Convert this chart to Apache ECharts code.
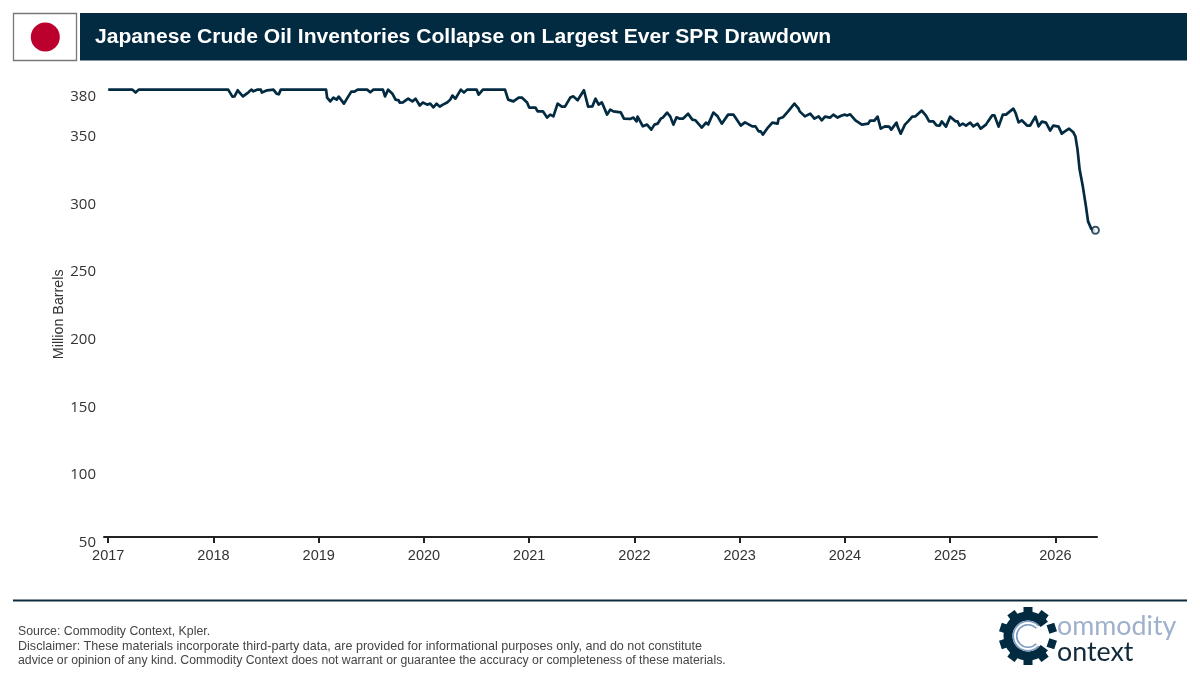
<!DOCTYPE html>
<html>
<head>
<meta charset="utf-8">
<style>html,body{margin:0;padding:0;background:#fff}#c{width:1200px;height:685px}</style>
<script src="https://cdn.jsdelivr.net/npm/echarts@6/dist/echarts.min.js"></script>
</head>
<body>
<div id="c"></div>
<script>
const titleText = "Japanese Crude Oil Inventories Collapse on Largest Ever SPR Drawdown";
const yTicks = [50,100,150,200,250,300,350,380];
const xTicks = [2017,2018,2019,2020,2021,2022,2023,2024,2025,2026];
const dates = [2017.00,2017.23,2017.26,2017.29,2018.14,2018.18,2018.20,2018.23,2018.28,2018.33,2018.36,2018.38,2018.42,2018.45,2018.46,2018.51,2018.57,2018.60,2018.62,2018.64,2018.99,2019.00,2019.03,2019.07,2019.08,2019.11,2019.14,2019.17,2019.19,2019.24,2019.28,2019.31,2019.34,2019.37,2019.46,2019.49,2019.52,2019.61,2019.63,2019.66,2019.70,2019.73,2019.76,2019.77,2019.80,2019.85,2019.89,2019.92,2019.96,2019.99,2020.03,2020.06,2020.09,2020.12,2020.15,2020.18,2020.22,2020.25,2020.27,2020.30,2020.35,2020.38,2020.41,2020.50,2020.52,2020.56,2020.77,2020.80,2020.85,2020.90,2020.93,2020.98,2021.00,2021.06,2021.08,2021.13,2021.17,2021.20,2021.23,2021.27,2021.31,2021.34,2021.39,2021.42,2021.46,2021.52,2021.56,2021.60,2021.63,2021.66,2021.69,2021.74,2021.77,2021.80,2021.87,2021.90,2021.96,2021.99,2022.02,2022.03,2022.08,2022.12,2022.16,2022.19,2022.22,2022.25,2022.27,2022.31,2022.34,2022.37,2022.40,2022.43,2022.46,2022.51,2022.55,2022.58,2022.64,2022.68,2022.70,2022.75,2022.79,2022.83,2022.89,2022.94,2023.01,2023.05,2023.12,2023.15,2023.18,2023.20,2023.22,2023.26,2023.31,2023.36,2023.37,2023.41,2023.46,2023.52,2023.56,2023.57,2023.62,2023.67,2023.71,2023.75,2023.78,2023.81,2023.86,2023.89,2023.93,2023.97,2024.00,2024.02,2024.05,2024.10,2024.16,2024.22,2024.24,2024.28,2024.31,2024.34,2024.38,2024.42,2024.44,2024.49,2024.50,2024.53,2024.57,2024.60,2024.64,2024.67,2024.73,2024.77,2024.80,2024.84,2024.87,2024.90,2024.92,2024.96,2025.00,2025.05,2025.07,2025.09,2025.12,2025.15,2025.19,2025.22,2025.26,2025.29,2025.34,2025.36,2025.40,2025.42,2025.46,2025.50,2025.53,2025.60,2025.62,2025.65,2025.68,2025.73,2025.76,2025.81,2025.84,2025.87,2025.91,2025.95,2025.98,2026.03,2026.06,2026.09,2026.13,2026.17,2026.19,2026.21,2026.23,2026.26,2026.29,2026.31,2026.34,2026.36,2026.38];
const inventories = [384,384,381.8,384,384,378.8,379,383.5,379,381.8,384,382.7,384,384,381.8,383.5,384,381,380.5,384,384,382.7,384,384,378,375.3,378,376.6,378.8,373.6,378.8,382.5,382.5,384,384,382,384,384,379,384,381,376.6,376,374.4,374.6,377.3,375.3,377.3,372.2,374.4,372.9,373.6,370.9,373.6,371.4,372.9,374.4,376.6,379.6,377.3,384,381.8,384,384,380.3,384,384,376.6,375.3,378.1,378.1,374.4,370.7,370.7,367.9,367.9,363.3,365.5,364.2,373.6,371.4,371.4,378.1,379,376.1,383.5,371.4,371.6,377.3,372.9,374.6,365.5,369.2,367.9,367.2,362.5,362.3,363.3,360.5,364,356.8,358.1,354.4,358.1,358.8,362.5,363.3,367,364.2,358.1,363.5,362.5,362.5,366.2,361.8,361.3,355.9,359.6,358.1,367,364.2,358.8,365.5,365.5,357.4,359.8,356.8,356.8,353.1,353.1,350.7,355.1,359.6,358.8,362.5,363.5,367.9,373.6,369.9,367.9,364.2,366.2,362.5,364.2,361.3,364,363.3,365.5,363.3,364.8,365.5,364.8,365.7,361.3,358.1,358.8,361.1,361.1,364,355.1,356.8,356.6,354.4,359.6,356.8,351.4,358.1,360.5,364,364.2,368.5,364.8,360.5,360.5,357.6,357.4,360.5,356.6,364,360.5,360.5,357.4,358.8,357.4,359.6,356.8,358.8,355.1,358.1,360.5,365,365,356.6,365.5,365.5,369.9,367,359.8,361.3,357.4,357.4,364,356.8,360.3,359.6,353.7,357.4,356.6,351.4,353.1,355.1,352.4,349.4,339.6,324.8,312.4,297.6,286.5,281.1,279.9,279.9];
const sourceLines = [
  "Source: Commodity Context, Kpler.",
  "Disclaimer: These materials incorporate third-party data, are provided for informational purposes only, and do not constitute",
  "advice or opinion of any kind. Commodity Context does not warrant or guarantee the accuracy or completeness of these materials."
];

const DARK = "#022a40";
const ARIAL = "Liberation Sans";
const series0 = dates.map((d,i)=>[d,inventories[i]]);
const lastPoint = [series0[series0.length-1]];

// gear logo
const gx=1028, gy=636;
const logo=[];
for(let i=0;i<10;i++){
  const a=(i+0.5)*Math.PI/5;
  if(Math.abs(Math.sin(a))<0.2 && Math.cos(a)>0) continue;
  logo.push({type:'rect',x:gx,y:gy,originX:0,originY:0,rotation:a,
    shape:{x:21,y:-4.5,width:8,height:9},style:{fill:DARK},z:10});
}
logo.push({type:'arc',shape:{cx:gx,cy:gy,r:20,startAngle:0.62,endAngle:-0.62,clockwise:true},
  style:{stroke:DARK,lineWidth:9,fill:null},z:11});
logo.push({type:'arc',shape:{cx:gx,cy:gy,r:13,startAngle:0.75,endAngle:-0.75,clockwise:true},
  style:{stroke:"#7f9cc0",lineWidth:5,fill:null},z:12});
logo.push({type:'arc',shape:{cx:gx,cy:gy,r:13,startAngle:0.75,endAngle:-0.75,clockwise:true},
  style:{stroke:"#ffffff",lineWidth:1.8,fill:null},z:13});

const graphic=[
  {type:'rect',shape:{x:13.5,y:13.5,width:63,height:47},style:{fill:'#fff',stroke:'#777',lineWidth:1.3}},
  {type:'circle',shape:{cx:45.3,cy:37,r:14.5},style:{fill:'#bc002d'}},
  {type:'rect',shape:{x:80,y:13,width:1107,height:47.5},style:{fill:DARK}},
  {type:'text',x:95,y:37,style:{text:titleText,fill:'#fff',font:'bold 21.1px "Liberation Sans"',textVerticalAlign:'middle'}},
  {type:'rect',shape:{x:13,y:599.5,width:1174,height:2},style:{fill:"#0f2c3d"}},
  {type:'text',x:18,y:631.5,style:{text:sourceLines[0],fill:'#444',font:'12.3px "Liberation Sans"',textVerticalAlign:'middle'}},
  {type:'text',x:18,y:646.5,style:{text:sourceLines[1],fill:'#444',font:'12.57px "Liberation Sans"',textVerticalAlign:'middle'}},
  {type:'text',x:18,y:660.5,style:{text:sourceLines[2],fill:'#444',font:'12.28px "Liberation Sans"',textVerticalAlign:'middle'}},
  {type:'text',x:1057,y:626,style:{text:'ommodity',fill:'#9fb0cc',font:'26.8px "Lato"',textVerticalAlign:'middle'}},
  {type:'text',x:1057,y:652,style:{text:'ontext',fill:'#12293a',font:'26.8px "Lato"',textVerticalAlign:'middle'}},
  ...logo
];

const chart=echarts.init(document.getElementById('c'),null,{renderer:'canvas'});
chart.setOption({
  animation:false,
  backgroundColor:'#fff',
  graphic,
  grid:{left:104,right:103,top:81.5,bottom:144,containLabel:false},
  xAxis:{
    type:'value',min:2016.96,max:2026.395,offset:-4,position:'bottom',
    axisLine:{show:true,onZero:false,lineStyle:{color:'#222',width:2}},
    axisTick:{show:true,length:6,lineStyle:{color:'#222',width:2},customValues:xTicks},
    axisLabel:{customValues:xTicks,formatter:v=>String(v),color:'#333',fontFamily:ARIAL,fontSize:14.5,margin:11,hideOverlap:false},
    splitLine:{show:false}
  },
  yAxis:{
    type:'value',min:50,max:390,
    axisLine:{show:false},axisTick:{show:false},splitLine:{show:false},
    axisLabel:{customValues:yTicks,formatter:v=>'{a|'+v+'}',margin:8,hideOverlap:false,
      rich:{a:{color:'#333',fontFamily:'Open Sans',fontSize:15,padding:[3,0,0,0]}}},
    name:'Million Barrels',nameLocation:'middle',nameGap:38,nameMoveOverlap:false,
    nameTextStyle:{color:'#333',fontFamily:ARIAL,fontSize:14.3,padding:[0,6,0,0]}
  },
  series:[
    {type:'line',data:series0,showSymbol:false,symbol:'none',smooth:false,clip:false,
     lineStyle:{color:DARK,width:2.7,join:'round'},z:3},
    {type:'scatter',data:lastPoint,symbol:'circle',symbolSize:7,clip:false,
     itemStyle:{color:'#fff',borderColor:DARK,borderWidth:2},z:4}
  ]
});
</script>
</body>
</html>
